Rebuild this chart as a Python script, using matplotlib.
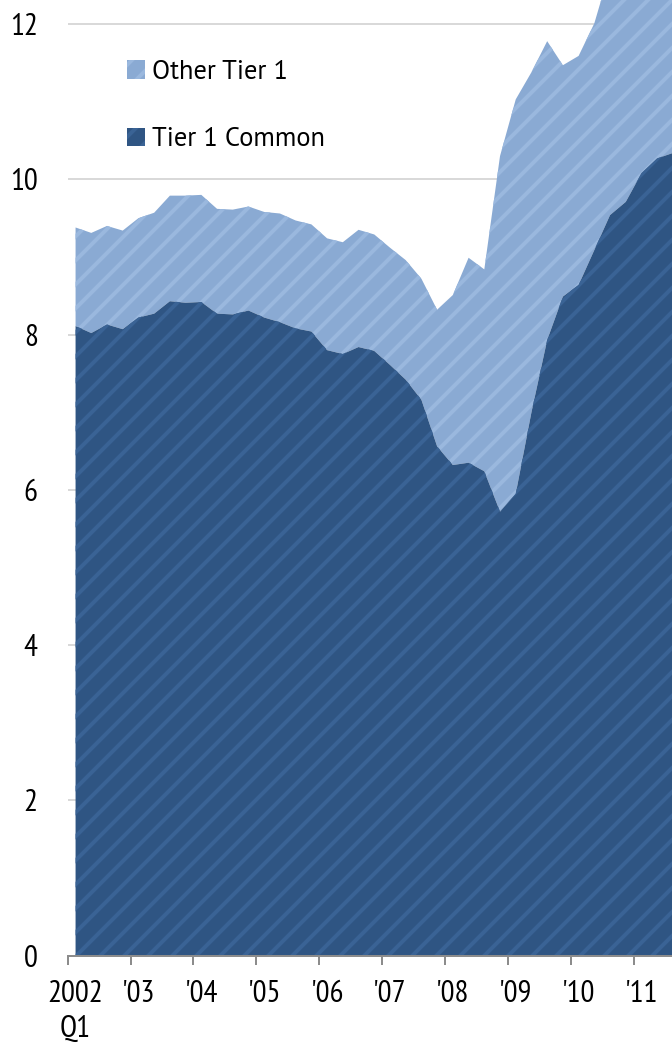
import numpy as np
import matplotlib
matplotlib.use('Agg')
import matplotlib.pyplot as plt

# Tier 1 capital ratios, quarterly 2002 Q1 - 2011 Q3 (percent)
quarters = [f"{y} Q{q}" for y in range(2002, 2012) for q in range(1, 5)][:39]
tier1_common = [8.11, 8.02, 8.13, 8.07, 8.22, 8.27, 8.43, 8.41, 8.42, 8.27,
                8.26, 8.31, 8.22, 8.16, 8.08, 8.04, 7.80, 7.75, 7.84, 7.79,
                7.61, 7.42, 7.16, 6.56, 6.32, 6.35, 6.24, 5.72, 5.95, 7.00,
                7.93, 8.49, 8.64, 9.09, 9.54, 9.71, 10.08, 10.27, 10.34]
tier1_total = [9.38, 9.31, 9.40, 9.34, 9.50, 9.57, 9.79, 9.79, 9.80, 9.62,
               9.61, 9.65, 9.58, 9.56, 9.47, 9.42, 9.24, 9.19, 9.35, 9.29,
               9.12, 8.96, 8.72, 8.32, 8.51, 8.99, 8.84, 10.30, 11.03, 11.38,
               11.78, 11.47, 11.59, 12.01, 12.70, 12.95, 13.10, 13.25, 13.35]
series_names = ['Other Tier 1', 'Tier 1 Common']
year_labels = ['2002\nQ1', "'03", "'04", "'05", "'06", "'07", "'08", "'09", "'10", "'11"]
y_ticks = [0, 2, 4, 6, 8, 10, 12]

dark = '#2F5583'
dark_stripe = '#3A6395'
light = '#8AAAD3'
light_stripe = '#9AB8DE'
axis_grey = '#8C8C8C'

plt.rcParams['hatch.linewidth'] = 4.0
tick_font = ['PT Sans Narrow', 'DejaVu Sans']
legend_font = ['PT Sans', 'DejaVu Sans']

fig = plt.figure(figsize=(672 / 72, 1047 / 72), dpi=72)
ax = fig.add_axes([67.7 / 672, 91.3 / 1047, 1 - 67.7 / 672, 1 - 91.3 / 1047])

x = np.arange(len(quarters)) + 0.5
other = ax.fill_between(x, tier1_common, tier1_total, facecolor=light,
                        edgecolor=light_stripe, hatch='/', linewidth=0,
                        label=series_names[0])
common = ax.fill_between(x, 0, tier1_common, facecolor=dark,
                         edgecolor=dark_stripe, hatch='/', linewidth=0,
                         label=series_names[1])

ax.set_xlim(0, 38.44)
ax.set_ylim(0, 12.31)

# grid + axes
ax.set_axisbelow(True)
ax.yaxis.grid(True, color='#D9D9D9', linewidth=2)
for side in ['top', 'right', 'left']:
    ax.spines[side].set_visible(False)
ax.spines['bottom'].set_color(axis_grey)
ax.spines['bottom'].set_linewidth(2)

ax.set_yticks(y_ticks)
ax.set_yticklabels([str(v) for v in y_ticks], family=tick_font, fontsize=31)
ax.tick_params(axis='y', length=0, pad=30)

# ticks on year boundaries, labels centred on first quarter of each year
ax.set_xticks(np.arange(0, 37, 4))
ax.set_xticklabels([])
ax.tick_params(axis='x', which='major', length=9, width=2, color=axis_grey)
ax.set_xticks(np.arange(0.5, 37, 4), minor=True)
ax.set_xticklabels(year_labels, minor=True, family=tick_font, fontsize=31,
                   linespacing=1.32)
ax.tick_params(axis='x', which='minor', length=0, pad=24)

fig.legend(handles=[other, common], labels=series_names, loc='upper left',
           bbox_to_anchor=(126.7 / 672, 1 - 60 / 1047), frameon=False,
           prop={'family': legend_font, 'size': 26.5},
           handlelength=0.7, handleheight=0.7, handletextpad=0.25,
           labelspacing=1.63, borderpad=0, borderaxespad=0)

fig.savefig('out.png', dpi=72)
